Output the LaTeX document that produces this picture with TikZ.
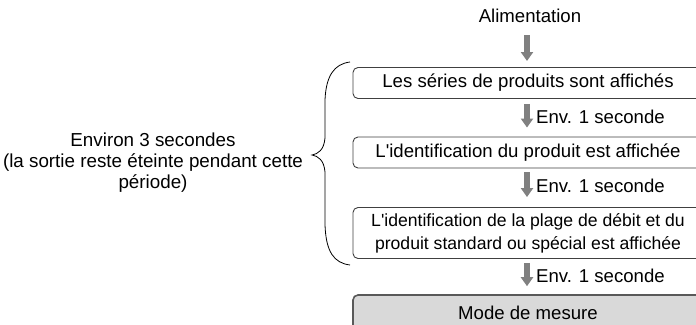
\documentclass[tikz,border=0pt]{standalone}
\usepackage{fontspec}
\setmainfont{Liberation Sans}[Ligatures=TeXOff]
\usetikzlibrary{arrows.meta}
\begin{document}
\begin{tikzpicture}[x=1pt,y=-1pt,
  font=\fontsize{18.6}{21.5}\selectfont,
  stepbox/.style={draw=black!75, line width=0.9pt, rounded corners=5pt, fill=white,
    minimum width=350pt, inner sep=0pt, align=center},
  graybox/.style={stepbox, fill=black!15, draw=black!65, line width=1.6pt},
  garrow/.style={line width=6pt, draw=black!50, -{Triangle[width=12pt,length=9pt]}},
  lbl/.style={anchor=west, inner sep=0pt}]
\clip (0,0) rectangle (696,324);
\node[inner sep=0pt] (al) at (530,16) {Alimentation};
\node[stepbox, minimum height=31pt] (b1) at (528,83) {Les séries de produits sont affichés};
\node[stepbox, minimum height=31pt] (b2) at (528,152.5) {L'identification du produit est affichée};
\node[stepbox, minimum height=51pt, font=\fontsize{17.6}{23}\selectfont] (b3) at (528,233) {L'identification de la plage de débit et du\\produit standard ou spécial est affichée};
\node[graybox, minimum height=36pt] (b4) at (528,313) {\raisebox{1pt}{Mode de mesure}};
\coordinate (a0s) at (527,35);
\coordinate (a0e) at (527,61);
\draw[garrow] (a0s) -- (a0e);
\draw[garrow, shorten <=5pt, shorten >=9pt] (b1.south -| a0s) -- (b2.north -| a0s);
\draw[garrow, shorten <=4pt, shorten >=10pt] (b2.south -| a0s) -- (b3.north -| a0s);
\draw[garrow, shorten <=4pt, shorten >=8pt] (b3.south -| a0s) -- (b4.north -| a0s);
\node[lbl] (e1) at (536,117) {Env. 1 seconde};
\node[lbl] (e2) at (536,186) {Env. 1 seconde};
\node[lbl] (e3) at (536,276) {Env. 1 seconde};
\draw[line width=0.8pt] (350,62) .. controls (334,64) and (326,76) .. (325,100)
  -- (325,138) .. controls (324,150) and (318,154) .. (312,155)
  .. controls (318,156) and (324,160) .. (325,172)
  -- (325,225) .. controls (326,252) and (334,263) .. (350,265);
\node[align=center, inner sep=0pt, font=\fontsize{18.8}{21}\selectfont] (lt) at (153,163) {Environ 3 secondes\\(la sortie reste éteinte pendant cette\\période)};
\end{tikzpicture}
\end{document}
